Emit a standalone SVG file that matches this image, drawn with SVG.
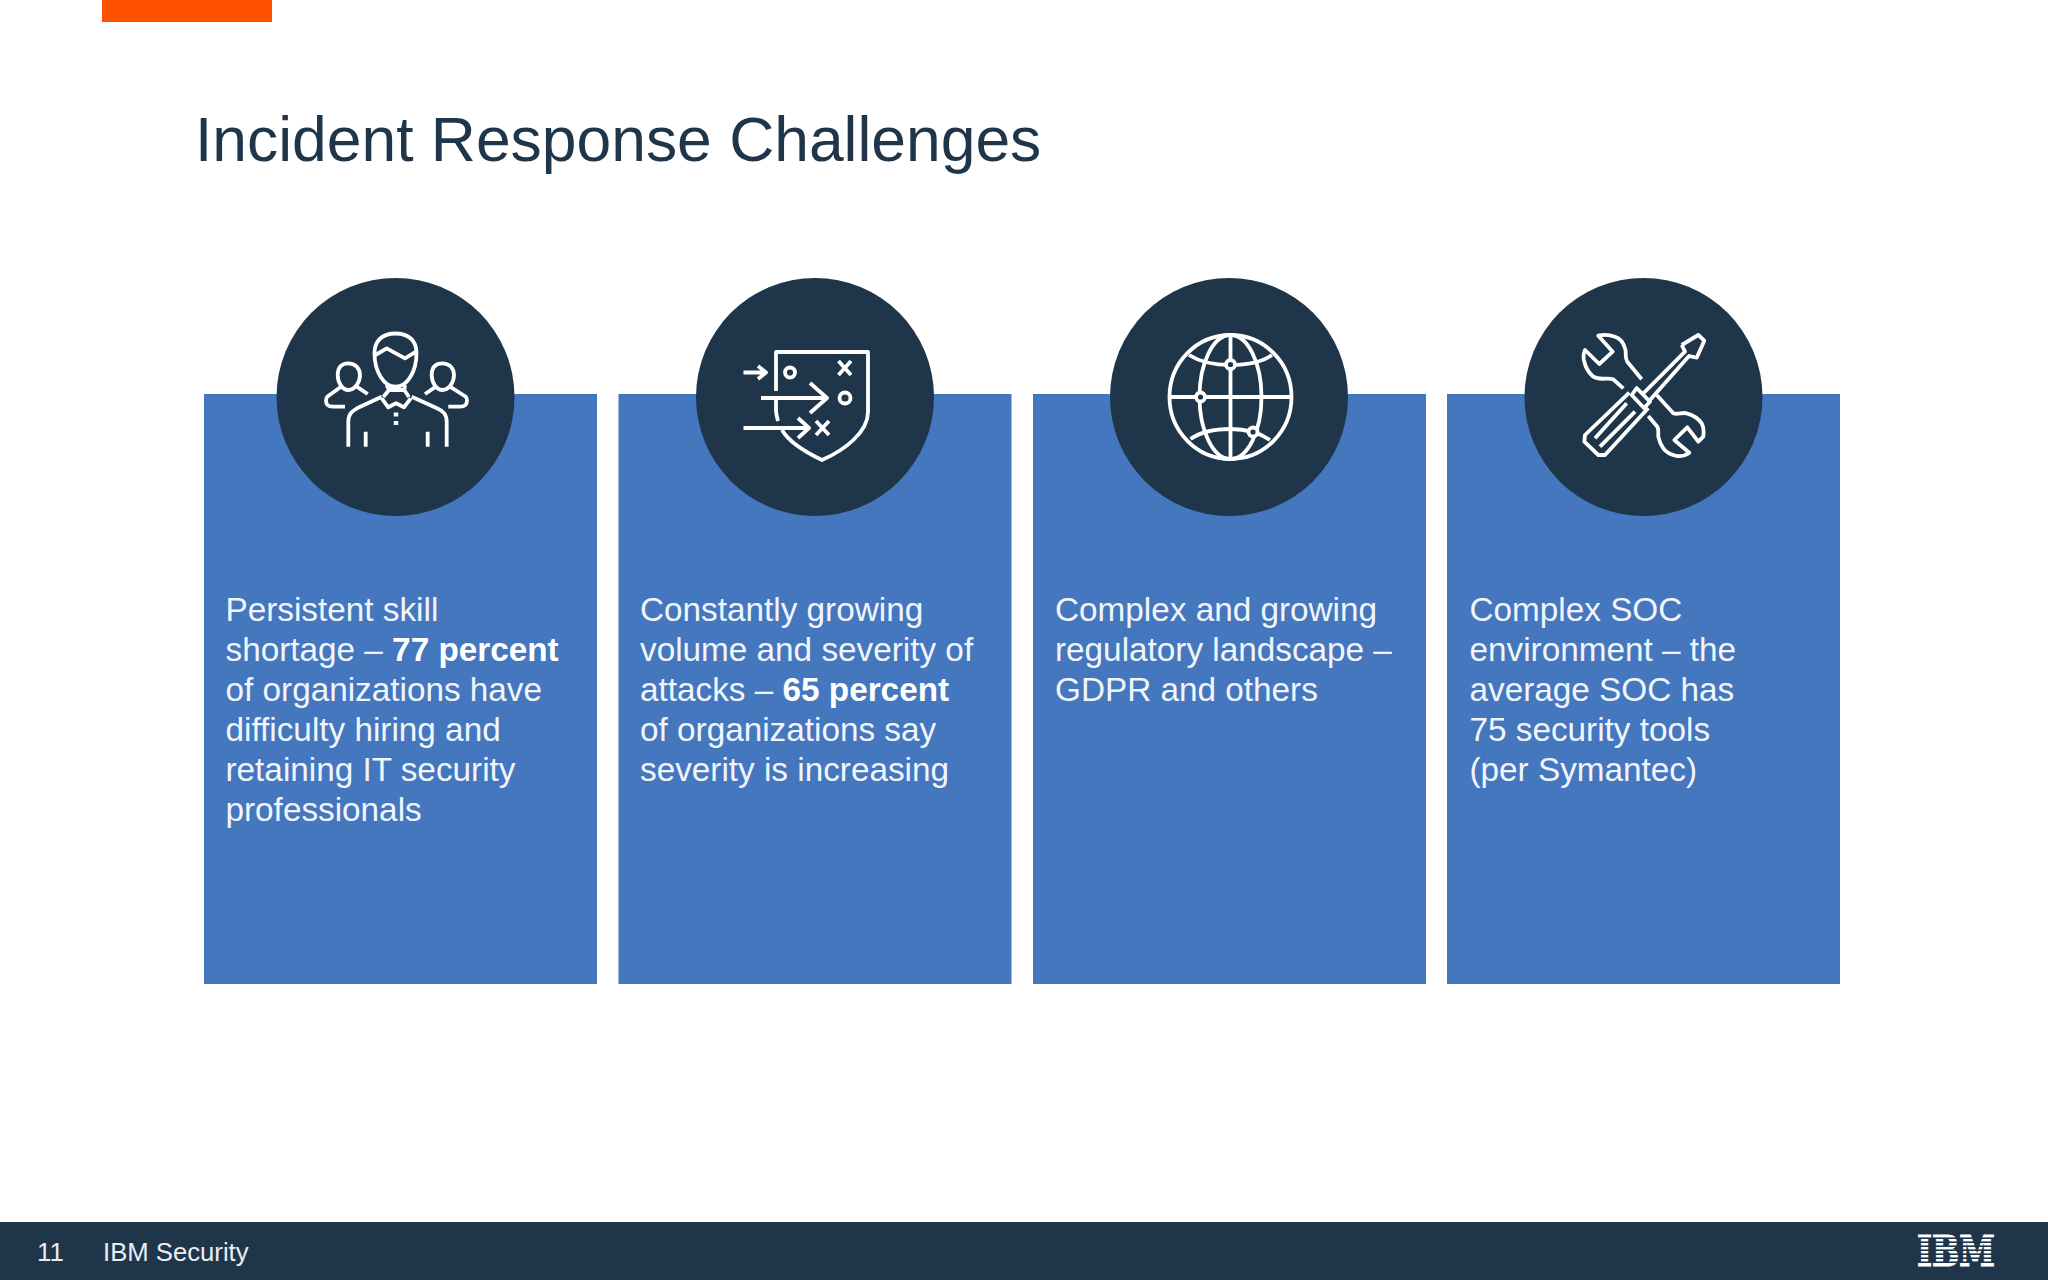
<svg xmlns="http://www.w3.org/2000/svg" width="2048" height="1280" viewBox="0 0 2048 1280">
<style>
text{font-family:"Liberation Sans",Arial,sans-serif}
.card{fill:#4577bf}
.disc{fill:#1f364a}
.body{font-size:33.3px;fill:#f1f5fa}
.body tspan.b{font-weight:bold;fill:#fff}
.ic{fill:none;stroke:#fff;stroke-width:3.8;stroke-linecap:butt;stroke-linejoin:round}
.foot{font-size:25.7px;fill:#e9eef3}
.st{fill:#1f364a}
</style>
<rect width="2048" height="1280" fill="#fff"/>
<rect id="accent" x="102" y="0" width="170" height="22" fill="#ff5000"/>
<text id="title" x="195" y="161" font-size="62.4" fill="#1f364a">Incident Response Challenges</text>

<g id="card1">
<rect class="card" x="204" y="394" width="393" height="590"/>
<circle class="disc" cx="395.5" cy="397" r="119"/>
<g class="ic">
<path d="M374.500,353C374.500,341 382,333.500 395.500,333.500C409,333.500 416.500,341 416.500,353C416.500,372 407,386.700 395.500,386.700C384,386.700 374.500,372 374.500,353Z"/>
<path d="M375.500,355L386.700,348.300L405,358.300L416,351.700"/>
<path d="M386.700,385L389,390H404.300L405,385M389,390L383.300,397M404.300,390L409,397"/>
<path d="M381.700,398.300L388.300,407.300L396,403.300L404,407.300L410.700,398.300"/>
<path d="M348.300,446.700V422C348.300,414 352,411 357,408.300L381.700,396.700M446.700,446.700V422C446.700,414 443,411 437,408.300L411.700,396.700"/>
<path d="M365.700,431.700V446.700M427.700,431.700V446.700"/>
<path d="M396,412.500V416.500M396,421V425" stroke-width="4.500"/>
<path d="M348.300,363.300C341,363.300 337.700,368 337.700,375C337.700,382 342,390 348.300,390C355,390 360,382 360,375C360,368 355,363.300 348.300,363.300Z"/>
<path d="M341,386.700L327.500,396.500C325.500,398 325.500,403 327.500,405C329,406.500 331,406.700 333,406.700H345M356.700,386.700L367.700,394"/>
<path d="M442.500,363.300C435,363.300 431.700,368 431.700,375C431.700,382 436,390 442.500,390C449,390 454,382 454,375C454,368 449,363.300 442.500,363.300Z"/>
<path d="M450,386.700L465.500,396.500C467.500,398 467.500,403 465.500,405C464,406.500 462,406.700 460,406.700H448.300M436,386.700L425,394"/>
</g>
</g>

<g id="card2">
<rect class="card" x="618.500" y="394" width="393" height="590"/>
<circle class="disc" cx="815" cy="397" r="119"/>
<g class="ic">
<path d="M776,391V352H868V412C868,432 845,450 822,460C803,451 789,442 782,430"/>
<path d="M776,400V410C776,414 777,417 778,421"/>
<path d="M743.500,372.500H766M758,366L766,372.500L758,379"/>
<path d="M761,398H827M810,383L827,398L810,413"/>
<path d="M743.500,428H809M798,418L809,428L798,438"/>
<circle cx="790" cy="372.500" r="5"/>
<circle cx="845" cy="398" r="5.500"/>
<path d="M838.500,361L851,375M851,361L838.500,375M816,421L829,435M829,421L816,435"/>
</g>
</g>

<g id="card3">
<rect class="card" x="1033" y="394" width="393" height="590"/>
<circle class="disc" cx="1229" cy="397" r="119"/>
<g class="ic">
<ellipse cx="1230.500" cy="397" rx="61" ry="62"/>
<ellipse cx="1230.500" cy="397" rx="31" ry="62"/>
<path d="M1230.500,335V459M1169.500,397H1291.500"/>
<path d="M1189,355C1200,362 1215,365 1230.500,365C1246,365 1262,362 1272,355"/>
<path d="M1190.500,439C1202,431 1216,429 1230.500,429C1246,429 1260,433 1270,440"/>
<circle cx="1230.500" cy="364.500" r="4.500" fill="#1f364a"/>
<circle cx="1200.500" cy="397" r="4.500" fill="#1f364a"/>
<circle cx="1253" cy="432" r="4.500" fill="#1f364a"/>
</g>
</g>

<g id="card4">
<rect class="card" x="1447" y="394" width="393" height="590"/>
<circle class="disc" cx="1643.500" cy="397" r="119"/>
<g class="ic">
<path d="M1681.700,345L1698.300,335L1704.300,340.700L1696.700,357.700L1689,356L1650,400M1681.700,345L1685,351.700L1642.700,394"/>
<path d="M1636.700,388L1650,401.700L1644,408L1631.700,395Z"/>
<path d="M1629.300,392.700L1585,435L1584.300,441.700L1598.300,455H1605L1648.300,408"/>
<path d="M1626.700,403.300L1595,438.300M1635,411.700L1600,446.700"/>
<path d="M1641.700,379.300L1627.300,361.700C1624,356 1627,352 1625,348.300C1623,341 1619,338 1615,336.700C1609,334.500 1603,334.500 1598.300,335.700L1612.700,351.700L1599.300,364L1585,350C1583,355 1583,358 1584.300,361.700C1586,369 1589,373 1593.300,376.700C1600,381 1607,377 1613.300,379.300L1623.300,388.300"/>
<path d="M1656.700,395L1673.300,413.300C1678,415 1682,412 1686.700,413.300C1693,415 1698,418 1701.700,423.300C1704,428 1704,432 1703.300,436.700L1698.300,441.700L1687.300,427.300L1674.300,440L1689.300,452.700C1685,456 1681,456.500 1676.700,456C1670,454.500 1666,452 1663.300,448.300C1660,444 1659,440 1658.300,436.700C1658,432 1659,430 1657.300,426.700L1648.300,416"/>
</g>
</g>

<g id="card-text">
<text class="body" x="225.500" y="621">Persistent skill</text>
<text class="body" x="225.500" y="661">shortage – <tspan class="b">77 percent</tspan></text>
<text class="body" x="225.500" y="701">of organizations have</text>
<text class="body" x="225.500" y="741">difficulty hiring and</text>
<text class="body" x="225.500" y="781">retaining IT security</text>
<text class="body" x="225.500" y="821">professionals</text>

<text class="body" x="640" y="621">Constantly growing</text>
<text class="body" x="640" y="661">volume and severity of</text>
<text class="body" x="640" y="701">attacks – <tspan class="b">65 percent</tspan></text>
<text class="body" x="640" y="741">of organizations say</text>
<text class="body" x="640" y="781">severity is increasing</text>

<text class="body" x="1055" y="621">Complex and growing</text>
<text class="body" x="1055" y="661">regulatory landscape –</text>
<text class="body" x="1055" y="701">GDPR and others</text>

<text class="body" x="1469.500" y="621">Complex SOC</text>
<text class="body" x="1469.500" y="661">environment – the</text>
<text class="body" x="1469.500" y="701">average SOC has</text>
<text class="body" x="1469.500" y="741">75 security tools</text>
<text class="body" x="1469.500" y="781">(per Symantec)</text>
</g>

<g id="footer">
<rect x="0" y="1222" width="2048" height="58" fill="#1f364a"/>
<text class="foot" x="37" y="1261">11</text>
<text class="foot" x="103" y="1261">IBM Security</text>
<g id="ibm-logo">
<text x="1917" y="1265.500" font-size="43" font-weight="bold" fill="#fff" stroke="#fff" stroke-width="1.200" textLength="78" lengthAdjust="spacingAndGlyphs" style="font-family:'DejaVu Serif',serif">IBM</text>
<rect class="st" x="1915" y="1237.400" width="82" height="1.600"/>
<rect class="st" x="1915" y="1241.400" width="82" height="1.600"/>
<rect class="st" x="1915" y="1245.400" width="82" height="1.600"/>
<rect class="st" x="1915" y="1249.400" width="82" height="1.600"/>
<rect class="st" x="1915" y="1253.400" width="82" height="1.600"/>
<rect class="st" x="1915" y="1257.400" width="82" height="1.600"/>
<rect class="st" x="1915" y="1261.400" width="82" height="1.600"/>
</g>
</g>
</svg>
